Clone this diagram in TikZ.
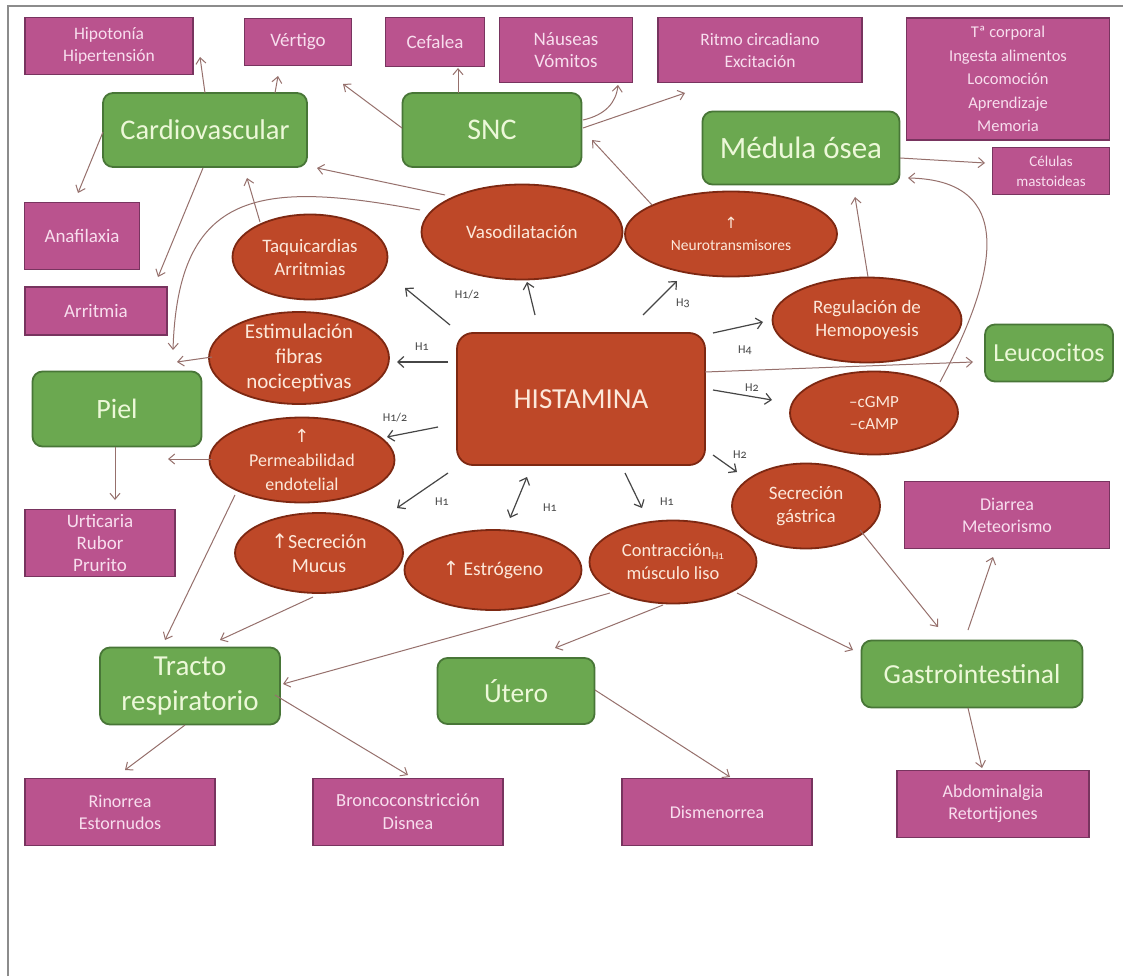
\documentclass[tikz,border=0pt]{standalone}
\usepackage{fontspec}
\setmainfont{Carlito}[Numbers=OldStyle]
\newfontfamily\symf{DejaVu Sans}
\usetikzlibrary{arrows.meta}
\usetikzlibrary{shapes}
\usetikzlibrary{calc}

\definecolor{pinkfill}{RGB}{186,83,142}
\definecolor{pinkline}{RGB}{120,52,95}
\definecolor{pinktext}{RGB}{248,222,238}
\definecolor{greenfill}{RGB}{107,168,80}
\definecolor{greenline}{RGB}{72,118,55}
\definecolor{greentext}{RGB}{236,248,216}
\definecolor{redfill}{RGB}{190,72,40}
\definecolor{redline}{RGB}{125,40,18}
\definecolor{redtext}{RGB}{252,232,218}
\definecolor{linkcol}{RGB}{150,112,108}
\definecolor{stubcol}{RGB}{70,70,70}
\definecolor{framecol}{RGB}{140,140,140}

\newcommand{\up}{{\symf ↑}}
\newcommand{\fs}[2]{\fontsize{#1}{#2}\selectfont}

\begin{document}
\begin{tikzpicture}[x=1pt, y=-1pt, font=\fs{18}{22}]
	\tikzstyle{pinkbox}=[rectangle, draw=pinkline, fill=pinkfill, line width=1.6pt, text=pinktext, align=center, inner sep=0pt]
	\tikzstyle{greenbox}=[rectangle, rounded corners=10pt, draw=greenline, fill=greenfill, line width=1.8pt, text=greentext, align=center, inner sep=0pt, font=\fs{28}{34}]
	\tikzstyle{redoval}=[ellipse, draw=redline, fill=redfill, line width=1.8pt, inner sep=0pt]
	\tikzstyle{ovaltext}=[text=redtext, align=center, inner sep=0pt, font=\fs{19}{23}]
	\tikzstyle{hlabel}=[text=stubcol, inner sep=0pt, font=\fs{12}{12}]
	\tikzstyle{link}=[draw=linkcol, line width=1pt, -{Straight Barb[length=6pt, width=10pt]}]
	\tikzstyle{stub}=[draw=stubcol, line width=1.2pt, -{Straight Barb[length=6pt, width=11pt]}]
	\tikzstyle{stubboth}=[draw=stubcol, line width=1.2pt, {Straight Barb[length=6pt, width=11pt]}-{Straight Barb[length=6pt, width=11pt]}]

	\fill[white] (0,0) rectangle (1123,976);
	\useasboundingbox (0,0) rectangle (1123,976);
	\draw[framecol, line width=1.5pt] (8,976) -- (8,6) -- (1123,6);

	\node[pinkbox, minimum width=168, minimum height=57, font=\fs{17.5}{22}] (hipo) at (109,46) {Hipotonía\\Hipertensión};
	\node[pinkbox, minimum width=107, minimum height=47, font=\fs{19}{22}] (vert) at (298,42) {Vértigo};
	\node[pinkbox, minimum width=99, minimum height=49, font=\fs{19}{22}] (cefa) at (435,42) {Cefalea};
	\node[pinkbox, minimum width=133, minimum height=65, font=\fs{19}{22}] (naus) at (566,50) {Náuseas\\Vómitos};
	\node[pinkbox, minimum width=204, minimum height=65, font=\fs{17.5}{22}] (ritmo) at (760,50) {Ritmo circadiano\\Excitación};
	\node[pinkbox, minimum width=203, minimum height=122, font=\fs{16.5}{23.5}] (tcorp) at (1008,79) {Tª corporal\\Ingesta alimentos\\Locomoción\\Aprendizaje\\Memoria};
	\node[pinkbox, minimum width=117, minimum height=47, font=\fs{15}{20}] (celul) at (1051,171) {Células\\mastoideas};
	\node[pinkbox, minimum width=115, minimum height=67, font=\fs{19}{22}] (anaf) at (82,236) {Anafilaxia};
	\node[pinkbox, minimum width=142, minimum height=48, font=\fs{19}{22}] (arrit) at (96,311) {Arritmia};
	\node[pinkbox, minimum width=150, minimum height=67, font=\fs{19}{22}] (urtic) at (100,543) {Urticaria\\Rubor\\Prurito};
	\node[pinkbox, minimum width=205, minimum height=67] (diarr) at (1007,515) {Diarrea\\Meteorismo};
	\node[pinkbox, minimum width=190, minimum height=67] (rino) at (120,812) {Rinorrea\\Estornudos};
	\node[pinkbox, minimum width=190, minimum height=67, font=\fs{18.5}{23}] (bronc) at (408,812) {Broncoconstricción\\Disnea};
	\node[pinkbox, minimum width=190, minimum height=67] (dism) at (717,812) {Dismenorrea};
	\node[pinkbox, minimum width=192, minimum height=67] (abdo) at (993,804) {Abdominalgia\\Retortijones};

	\node[greenbox, minimum width=204, minimum height=74, font=\fs{28.5}{34}] (cardio) at (205,130) {Cardiovascular};
	\node[greenbox, minimum width=179, minimum height=74, font=\fs{30}{34}] (snc) at (492,130) {SNC};
	\node[greenbox, minimum width=197, minimum height=73, font=\fs{31}{34}] (medula) at (801,148) {Médula ósea};
	\node[greenbox, minimum width=128, minimum height=57, font=\fs{26}{30}] (leuco) at (1049,353) {Leucocitos};
	\node[greenbox, minimum width=169, minimum height=75] (piel) at (117,409) {Piel};
	\node[greenbox, minimum width=180, minimum height=77, font=\fs{29}{35}] (tracto) at (190,686) {Tracto\\respiratorio};
	\node[greenbox, minimum width=157, minimum height=66, font=\fs{27.5}{33}] (utero) at (516,691) {Útero};
	\node[greenbox, minimum width=221, minimum height=67, font=\fs{27.5}{33}] (gastro) at (972,674) {Gastrointestinal};

	\node[rectangle, rounded corners=16pt, draw=redline, fill=redfill, line width=1.8pt, text=redtext, minimum width=248, minimum height=132, font=\fs{29}{34}] (hist) at (581,399) {HISTAMINA};
	\node[redoval, minimum width=155, minimum height=85, label={[ovaltext]center:{Taquicardias\\Arritmias}}] (taq) at (310,257) {};
	\node[redoval, minimum width=201, minimum height=95, label={[ovaltext]center:{Vasodilatación}}] (vaso) at (522,232) {};
	\node[redoval, minimum width=212, minimum height=85, label={[ovaltext, font=\fs{15.5}{22}]center:{\up\\Neurotransmisores}}] (neuro) at (731,234) {};
	\node[redoval, minimum width=189, minimum height=85, label={[ovaltext]center:{Regulación de\\Hemopoyesis}}] (regul) at (867,320) {};
	\node[redoval, minimum width=168, minimum height=83, label={[ovaltext, font=\fs{17}{22}]center:{–cGMP\\–cAMP}}] (cgmp) at (874,413) {};
	\node[redoval, minimum width=148, minimum height=85, label={[ovaltext]center:{Secreción\\gástrica}}] (secg) at (806,506) {};
	\node[redoval, minimum width=180, minimum height=92, label={[ovaltext, font=\fs{21}{25}]center:{Estimulación\\fibras\\nociceptivas}}] (estim) at (299,358) {};
	\node[redoval, minimum width=185, minimum height=85, label={[ovaltext, font=\fs{18}{24}]center:{\up\\Permeabilidad\\endotelial}}] (perm) at (302,460) {};
	\node[redoval, minimum width=168, minimum height=80, label={[ovaltext, font=\fs{20}{24}]center:{\up Secreción\\Mucus}}] (mucus) at (319,553) {};
	\node[redoval, minimum width=177, minimum height=80, label={[ovaltext, font=\fs{19.5}{23}]center:{\up\ Estrógeno}}] (estro) at (493,570) {};
	\node[redoval, minimum width=167, minimum height=83, label={[ovaltext, font=\fs{18.5}{23}]center:{Contracción\raisebox{-3pt}{\fs{11}{11}H1}\\músculo liso}}] (contr) at (673,562) {};

	\node[hlabel] (hA) at (467,295) {H1/2};
	\node[hlabel] (hB) at (683,303) {H3};
	\node[hlabel] (hC) at (422,347) {H1};
	\node[hlabel] (hD) at (395,418) {H1/2};
	\node[hlabel] (hE) at (745,350) {H4};
	\node[hlabel] (hF) at (752,388) {H2};
	\node[hlabel] (hG) at (740,455) {H2};
	\node[hlabel] (hH) at (442,502) {H1};
	\node[hlabel] (hI) at (550,508) {H1};
	\node[hlabel] (hJ) at (667,502) {H1};

	\draw[stub] ($(hist)+(-131,-74)$) -- ($(taq)+(95,31)$);
	\draw[stub] ($(hist)+(-46,-84)$) -- ($(vaso)+(5,50)$);
	\draw[stub] ($(hist)+(62,-84)$) -- ($(neuro)+(-54,47)$);
	\draw[stub] ($(hist)+(132,-66)$) -- ($(regul)+(-104,2)$);
	\draw[stub] ($(hist)+(132,-9)$) -- ($(cgmp)+(-102,-13)$);
	\draw[stub] ($(hist)+(132,56)$) -- ($(secg)+(-69,-34)$);
	\draw[stub] ($(hist)+(44,74)$) -- ($(contr)+(-31,-54)$);
	\draw[stubboth] ($(hist)+(-54,78)$) -- ($(estro)+(17,-52)$);
	\draw[stub] ($(hist)+(-133,74)$) -- ($(mucus)+(78,-45)$);
	\draw[stub] ($(hist)+(-143,28)$) -- ($(perm)+(85,-23)$);
	\draw[stub] ($(hist)+(-133,-37)$) -- ($(estim)+(98,4)$);

	\draw[link] ($(cardio)+(0,-37)$) -- ($(hipo)+(91,11)$);
	\draw[link] ($(cardio)+(70,-37)$) -- ($(vert)+(-20,34)$);
	\draw[link] ($(cardio)+(-102,2)$) -- ($(anaf)+(-4,-43)$);
	\draw[link] ($(cardio)+(-2,38)$) -- ($(arrit)+(62,-34)$);
	\draw[link] ($(snc)+(-90,-2)$) -- ($(vert)+(45,42)$);
	\draw[link] ($(snc)+(-34,-37)$) -- ($(cefa)+(23,26)$);
	\draw[link] ($(snc)+(91,-10)$) .. controls +(22,-5) and +(-2,18) .. ($(naus)+(52,35)$);
	\draw[link] ($(snc)+(91,-2)$) -- ($(ritmo)+(-75,43)$);
	\draw[link] ($(vaso)+(-77,-37)$) -- ($(cardio)+(112,38)$);
	\draw[link] ($(vaso)+(-102,-22)$) .. controls +(-160,-30) and +(5,-160) .. ($(piel)+(56,-59)$);
	\draw[link] ($(taq)+(-50,-35)$) -- ($(cardio)+(42,48)$);
	\draw[link] ($(neuro)+(-79,-29)$) -- ($(snc)+(100,10)$);
	\draw[link] ($(regul)+(1,-43)$) -- ($(medula)+(54,49)$);
	\draw[link] ($(medula)+(99,10)$) -- ($(celul)+(-66,-8)$);
	\draw[link] ($(cgmp)+(66,-31)$) .. controls +(60,-112) and +(107,2) .. ($(medula)+(107,30)$);
	\draw[link] ($(hist)+(124,-27)$) -- ($(leuco)+(-76,9)$);
	\draw[link] ($(secg)+(54,24)$) -- ($(gastro)+(-34,-47)$);
	\draw[link] ($(gastro)+(-4,-44)$) -- ($(diarr)+(-14,42)$);
	\draw[link] ($(gastro)+(-4,34)$) -- ($(abdo)+(-11,-36)$);
	\draw[link] ($(contr)+(64,31)$) -- ($(gastro)+(-119,-24)$);
	\draw[link] ($(contr)+(-10,43)$) -- ($(utero)+(39,-43)$);
	\draw[link] ($(contr)+(-63,31)$) -- ($(tracto)+(93,-2)$);
	\draw[link] ($(mucus)+(-6,44)$) -- ($(tracto)+(30,-46)$);
	\draw[link] ($(perm)+(-67,35)$) -- ($(tracto)+(-25,-46)$);
	\draw[link] ($(perm)+(-90,-1)$) -- ($(piel)+(51,50)$);
	\draw[link] ($(estim)+(-87,-1)$) -- ($(piel)+(60,-47)$);
	\draw[link] ($(piel)+(-2,38)$) -- ($(urtic)+(15,-43)$);
	\draw[link] ($(tracto)+(-5,39)$) -- ($(rino)+(5,-42)$);
	\draw[link] ($(tracto)+(85,9)$) -- ($(bronc)+(0,-37)$);
	\draw[link] ($(utero)+(79,-1)$) -- ($(dism)+(13,-35)$);
\end{tikzpicture}
\end{document}
